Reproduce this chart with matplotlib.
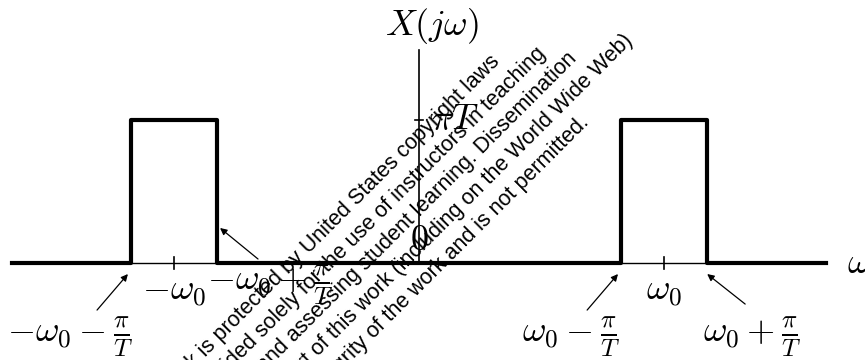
import matplotlib
matplotlib.use('Agg')
import matplotlib.pyplot as plt

''' spectrum of a pair of rectangular pulses centred on +/- w0
recreated from a textbook figure
'''

# frequency axis in units of w0, pulse half width pi/T = 0.175 w0
w0 = 1.0
half = 0.175
omega = [-1.66, -1.175, -1.175, -0.825, -0.825, 0.825, 0.825, 1.175, 1.175, 1.66]
X = [0, 0, 1, 1, 0, 0, 1, 1, 0, 0]
peak = 1.0

tick_pos = [-w0, w0]
tick_labels = [r'$-\omega_0$', r'$\omega_0$']

edge_labels = [r'$-\omega_0-\frac{\pi}{T}$', r'$-\omega_0+\frac{\pi}{T}$',
               r'$\omega_0-\frac{\pi}{T}$', r'$\omega_0+\frac{\pi}{T}$']

watermark = ['This work is protected by United States copyright laws',
             'and is provided solely for the use of instructors in teaching',
             'their courses and assessing student learning. Dissemination',
             'or sale of any part of this work (including on the World Wide Web)',
             'will destroy the integrity of the work and is not permitted.']


def main():
	plt.rcParams['mathtext.fontset'] = 'cm'
	fig = plt.figure(figsize=(8.65, 3.6), dpi=100)
	ax = fig.add_axes([0, 0, 1, 1])
	ax.set_xlim(-1.710, 1.820)
	ax.set_ylim(-0.678, 1.839)
	ax.axis('off')

	# axes
	ax.plot([omega[0], omega[-1]], [0, 0], color='black', lw=1.0, zorder=1)
	ax.plot([0, 0], [0, 1.49], color='black', lw=1.2, zorder=1)

	# signal
	ax.plot(omega, X, color='black', lw=3.0, zorder=3)

	# ticks
	for t in tick_pos:
		ax.plot([t, t], [-0.045, 0.045], color='black', lw=1.2, zorder=2)
	ax.plot([-0.016, 0.016], [peak, peak], color='black', lw=1.2, zorder=2)

	fs = 26
	for t, lab in zip(tick_pos, tick_labels):
		ax.text(t, -0.205, lab, fontsize=fs, ha='center', va='center')
	ax.text(0.147, 1.01, r'$\pi T$', fontsize=fs, ha='center', va='center')
	ax.text(0.0, 0.16, r'$0$', fontsize=fs, ha='center', va='center')
	ax.text(0.053, 1.657, r'$X(j\omega)$', fontsize=fs, ha='center', va='center')
	ax.text(1.747, 0.0, r'$\omega$', fontsize=fs, ha='left', va='center')

	# arrows pointing at the pulse edges
	edges = [-w0 - half, -w0 + half, w0 - half, w0 + half]
	heads = [(-1.188, -0.077), (-0.812, 0.245), (0.812, -0.077), (1.176, -0.077)]
	tails = [(-1.314, -0.329), (-0.657, 0.028), (0.686, -0.329), (1.331, -0.287)]
	label_pos = [(-1.424, -0.517), (-0.608, -0.154), (0.620, -0.517), (1.359, -0.517)]
	for e, h, t, p, lab in zip(edges, heads, tails, label_pos, edge_labels):
		ax.annotate('', xy=h, xytext=t,
			arrowprops=dict(arrowstyle='-|>', color='black', lw=0.9,
				mutation_scale=10, shrinkA=0, shrinkB=0))
		ax.text(p[0], p[1], lab, fontsize=fs, ha='center', va='center')

	# watermark on the original page, one line at a time at 45 degrees
	# (start of first baseline in pixels from top left, step between lines)
	x0, y0 = 136.5, 426.4
	step = 18.7
	for i, line in enumerate(watermark):
		px = x0 + i * step
		py = y0 + i * step
		ax.text(px / 865, 1 - py / 360, line, transform=fig.transFigure,
			family='Liberation Sans', fontsize=15.5, rotation=45,
			rotation_mode='anchor', ha='left', va='baseline', zorder=5)

	fig.savefig('out.png', dpi=100)


if __name__ == "__main__":
	main()
